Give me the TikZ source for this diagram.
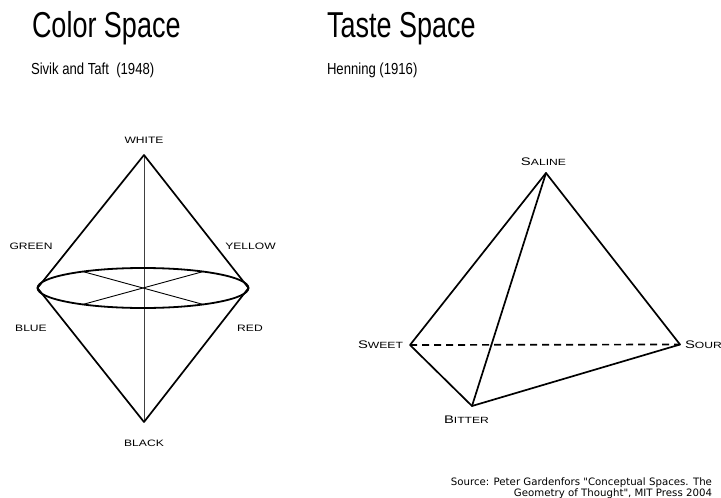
\documentclass[tikz,border=0pt]{standalone}
\usepackage{fontspec}
\setmainfont{Liberation Sans}
\newfontfamily\srcfont{DejaVu Sans}
\newcommand\lab[1]{\scalebox{1.3}[1]{\fontsize{9.3}{9.3}\selectfont #1}}
\newcommand\sclab[2]{\scalebox{1.35}[1]{\fontsize{11}{11}\selectfont #1\fontsize{9}{9}\selectfont #2}}
\tikzset{
  txt/.style={inner sep=0pt, outer sep=0pt},
  edge/.style={line width=1.7pt, line join=round, line cap=round},
  thin/.style={line width=0.9pt},
}
\begin{document}
\begin{tikzpicture}[x=1pt,y=-1pt]
\useasboundingbox (0,0) rectangle (721,498);
% titles
\node[txt, anchor=base west] (t1) at (32,37) {\scalebox{0.75}[1]{\fontsize{36}{36}\selectfont Color Space}};
\node[txt, anchor=base west] (s1) at (31,74) {\scalebox{0.82}[1]{\fontsize{16}{16}\selectfont Sivik and Taft\ \ (1948)}};
\node[txt, anchor=base west] (t2) at (327,37) {\scalebox{0.75}[1]{\fontsize{36}{36}\selectfont Taste Space}};
\node[txt, anchor=base west] (s2) at (327,74) {\scalebox{0.82}[1]{\fontsize{16}{16}\selectfont Henning (1916)}};
% color space cone
\coordinate (white) at (144,155);
\coordinate (black) at (144,422);
\coordinate (cen) at (143,288);
\coordinate (eL) at (37.5,288);
\coordinate (eR) at (248.5,288);
\coordinate (d1a) at (83,271.6);
\coordinate (d1b) at (203,304.4);
\coordinate (d2a) at (203,271.6);
\coordinate (d2b) at (83,304.4);
\draw[line width=0.8pt, black!75] (white) -- (black);
\draw[thin] (d1a) -- (d1b);
\draw[thin] (d2a) -- (d2b);
\draw[line width=1.8pt] (cen) ellipse [x radius=105.5, y radius=20];
\draw[edge] (eL) -- (white) -- (eR);
\draw[edge] (eL) -- (black) -- (eR);
\node[txt] (lwhite) at (144,140) {\lab{WHITE}};
\node[txt] (lblack) at (144,443) {\lab{BLACK}};
\node[txt] (lgreen) at (31,246) {\lab{GREEN}};
\node[txt] (lyellow) at (250.5,246) {\lab{YELLOW}};
\node[txt] (lblue) at (31,328) {\lab{BLUE}};
\node[txt] (lred) at (250,328) {\lab{RED}};
% taste tetrahedron
\coordinate (saline) at (546,173);
\coordinate (sweet) at (410,345);
\coordinate (sour) at (680,344.5);
\coordinate (bitter) at (472,406);
\draw[line width=1.7pt, dash pattern=on 7pt off 5pt] (sweet) -- (sour);
\draw[edge] (sweet) -- (saline) -- (sour) -- (bitter) -- (sweet);
\draw[edge] (saline) -- (bitter);
\node[txt] (lsaline) at (543.5,162) {\sclab{S}{ALINE}};
\node[txt, anchor=east] (lsweet) at (403,345) {\sclab{S}{WEET}};
\node[txt, anchor=west] (lsour) at (685,345) {\sclab{S}{OUR}};
\node[txt] (lbitter) at (466.5,420) {\sclab{B}{ITTER}};
% source
\node[txt, anchor=base east] (src1) at (712,485.5) {\srcfont\fontsize{10.2}{10.2}\selectfont Source: Peter Gardenfors "Conceptual Spaces. The};
\node[txt, anchor=base east] (src2) at (712,496.5) {\srcfont\fontsize{10.2}{10.2}\selectfont Geometry of Thought", MIT Press 2004};
\end{tikzpicture}
\end{document}
